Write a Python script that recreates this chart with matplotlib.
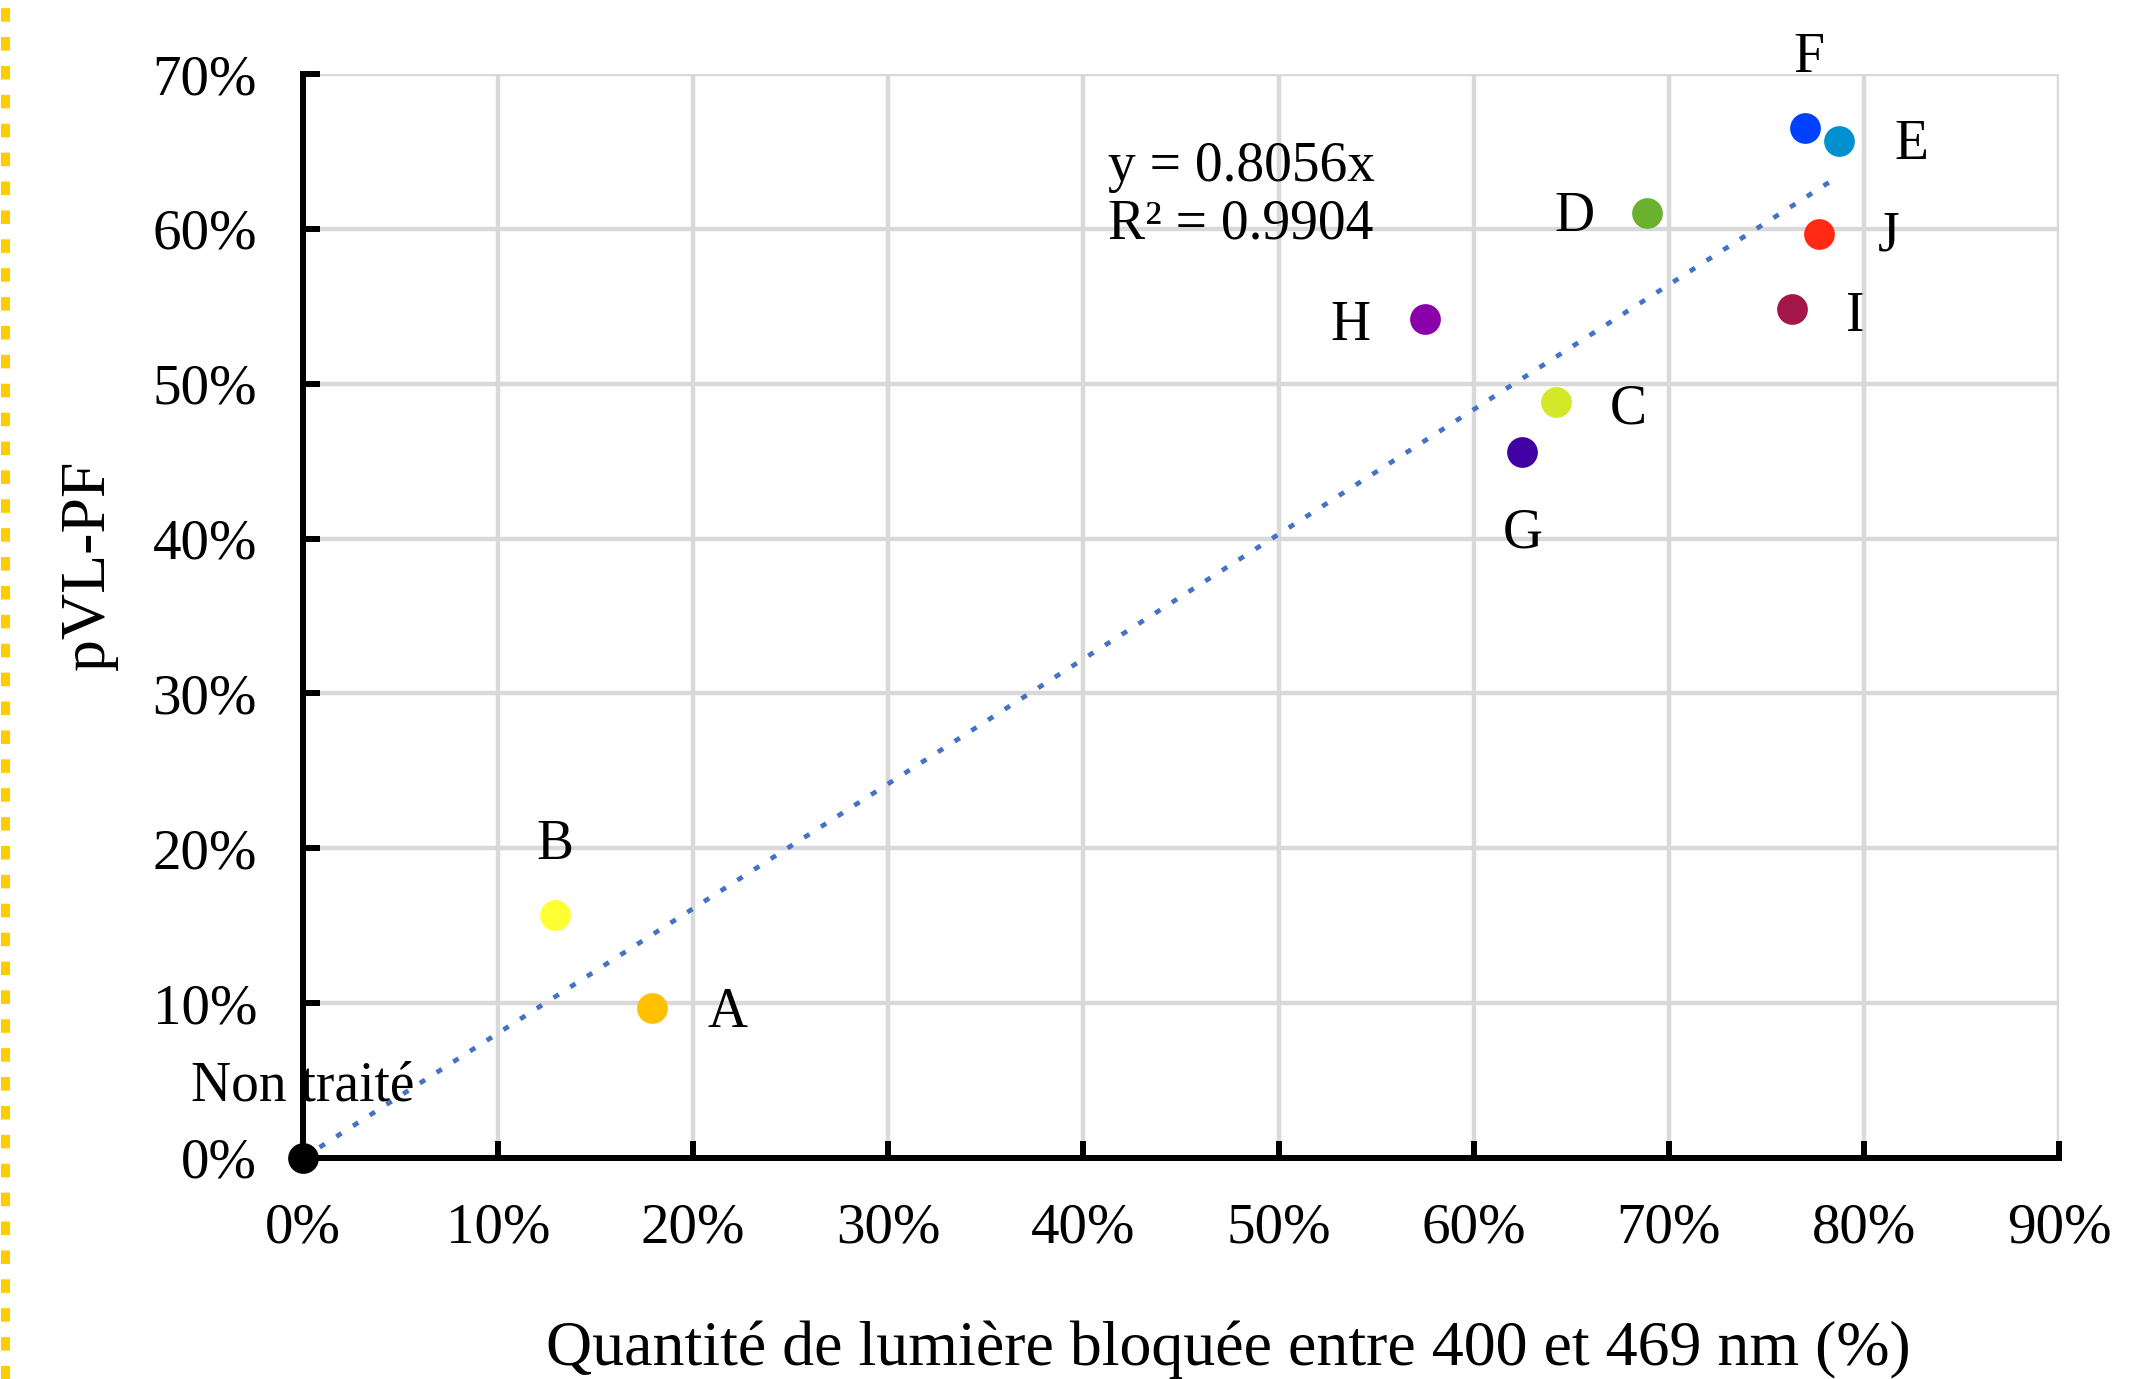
import matplotlib
matplotlib.use("Agg")
import matplotlib.pyplot as plt
from matplotlib.lines import Line2D
from matplotlib.ticker import PercentFormatter
import numpy as np

# data (fractions)
names = ['Non traité', 'A', 'B', 'C', 'D', 'E', 'F', 'G', 'H', 'I', 'J']
blocked = [0.0, 0.179, 0.129, 0.642, 0.689, 0.787, 0.770, 0.625, 0.575, 0.763, 0.777]
pvl_pf = [0.0, 0.097, 0.157, 0.488, 0.610, 0.657, 0.665, 0.456, 0.542, 0.548, 0.597]
colors = ['#000000', '#FFC000', '#FFFF33', '#D4E829', '#6AB12F', '#0090D0',
          '#0041FF', '#4000A4', '#8A00AA', '#A31848', '#FF2914']
slope = 0.8056
r2 = 0.9904

# label offsets in pixels from the point
offsets = {'Non traité': (0, 71), 'A': (75, -5), 'B': (0, 70), 'C': (73, -7),
           'D': (-73, -4), 'E': (73, -4), 'F': (3, 70), 'G': (0, -82),
           'H': (-74, -7), 'I': (64, -8), 'J': (70, -3)}

plt.rcParams['font.family'] = ['Liberation Serif', 'DejaVu Serif']
fs = 40

fig = plt.figure(figsize=(21.5, 13.79), dpi=100)
ax = fig.add_axes([0.1409, 0.1603, 0.9577 - 0.1409, 0.9463 - 0.1603])

# trend line through origin
xt = np.array([0, max(blocked)])
ax.plot(xt, slope * xt, color='#4472C4', lw=3.4, linestyle=(0, (1.3, 2.9)), zorder=2)

for n, x, y, c in zip(names, blocked, pvl_pf, colors):
    ax.scatter(x, y, s=490, color=c, zorder=3, clip_on=False, linewidths=0)
    dx, dy = offsets[n]
    ax.annotate(n, (x, y), xytext=(dx, dy), textcoords='offset pixels',
                ha='center', va='center', fontsize=fs, zorder=4,
                annotation_clip=False)

ax.text(0.4126, 0.657, f'y = {slope}x\nR² = {r2}', fontsize=fs, ha='left',
        va='top', linespacing=1.15, transform=ax.transData)

ax.set_xlim(0, 0.9)
ax.set_ylim(0, 0.7)
ax.set_xticks(np.arange(0, 0.91, 0.1))
ax.set_yticks(np.arange(0, 0.71, 0.1))
ax.xaxis.set_major_formatter(PercentFormatter(1.0, decimals=0))
ax.yaxis.set_major_formatter(PercentFormatter(1.0, decimals=0))
ax.grid(True, color='#D9D9D9', lw=3.2, zorder=0)
ax.set_axisbelow(True)
for s in ['top', 'right']:
    ax.spines[s].set_visible(False)
for s in ['left', 'bottom']:
    ax.spines[s].set_linewidth(4.3)
ax.tick_params(direction='in', length=12, width=4.3, labelsize=41)
ax.tick_params(axis='x', pad=32)
ax.tick_params(axis='y', pad=33)

ax.set_xlabel('Quantité de lumière bloquée entre 400 et 469 nm (%)', fontsize=46)
ax.set_ylabel('pVL-PF', fontsize=46)
ax.xaxis.set_label_coords(0.527, -0.177)
ax.xaxis.label.set_va('center')
ax.yaxis.set_label_coords(-0.122, 0.547)
ax.yaxis.label.set_va('center')

# yellow dotted border on the left edge
fig.add_artist(Line2D([4.5 / 2150, 4.5 / 2150], [0, 1], transform=fig.transFigure,
                      color='#FFCC00', lw=6.5, linestyle=(0, (1.5, 1.7))))

fig.savefig('out.png', dpi=100)
